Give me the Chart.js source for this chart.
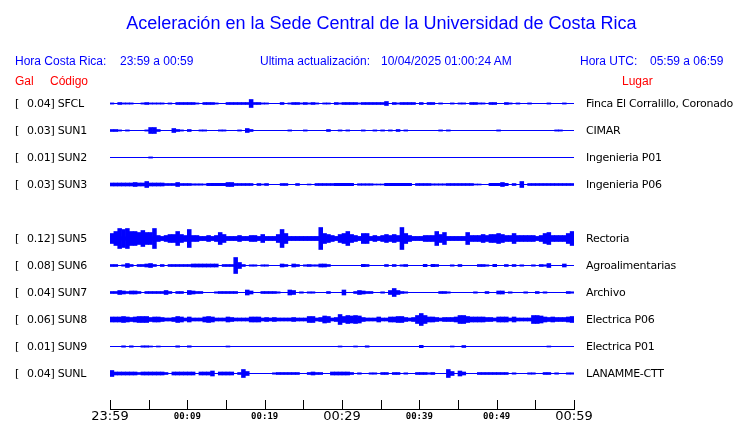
<!DOCTYPE html>
<html>
<head>
<meta charset="utf-8">
<script src="https://cdn.jsdelivr.net/npm/chart.js@4"></script>
<style>
  body { margin: 0; background: #fff; }
  #wrap { position: relative; width: 740px; height: 423px; overflow: hidden; }
  #wrap canvas { position: absolute; left: 0; top: 0; }
  .t { position: absolute; white-space: pre; line-height: 1; }
  .blue { font: 12px "Liberation Sans", Arial, sans-serif; color: #0000ff; }
  .red { font: 12px "Liberation Sans", Arial, sans-serif; color: #ff0000; }
  .row { font: 11px "DejaVu Sans", sans-serif; color: #000; letter-spacing: -0.25px; }
</style>
</head>
<body>
<div id="wrap">
  <canvas id="sismo" width="740" height="423"></canvas>
  <div class="t" style="left:0;width:763px;text-align:center;top:13px;font:18px 'Liberation Sans',Arial,sans-serif;color:#0000ff">Aceleración en la Sede Central de la Universidad de Costa Rica</div>
  <div class="t blue" style="left:15px;top:54px">Hora Costa Rica:</div>
  <div class="t blue" style="left:120px;top:54px">23:59 a 00:59</div>
  <div class="t blue" style="left:260px;top:54px">Ultima actualización:</div>
  <div class="t blue" style="left:381px;top:54px">10/04/2025 01:00:24 AM</div>
  <div class="t blue" style="left:580px;top:54px">Hora UTC:</div>
  <div class="t blue" style="left:650px;top:54px">05:59 a 06:59</div>
  <div class="t red" style="left:15px;top:74px">Gal</div>
  <div class="t red" style="left:50px;top:74px">Código</div>
  <div class="t red" style="left:622px;top:74px">Lugar</div>
</div>
<script>
// estaciones (fila 4 queda vacia)
const codes = ["SFCL", "SUN1", "SUN2", "SUN3", "SUN5", "SUN6", "SUN7", "SUN8", "SUN9", "SUNL"];
const places = ["Finca El Corralillo, Coronado", "CIMAR", "Ingenieria P01", "Ingenieria P06",
  "Rectoria", "Agroalimentarias", "Archivo", "Electrica P06", "Electrica P01", "LANAMME-CTT"];
const peakGal = [0.04, 0.03, 0.01, 0.03, 0.12, 0.08, 0.04, 0.06, 0.01, 0.04];
const rows = [0, 1, 2, 3, 5, 6, 7, 8, 9, 10];

// eje de tiempo: 60 minutos, marca cada 5
const tickLabels = ["23:59", "00:09", "00:19", "00:29", "00:39", "00:49", "00:59"];
const bigLabels = ["23:59", "00:29", "00:59"];

// envolvente de cada traza, en centesimas de Gal, un valor cada medio minuto (120)
const sfcl = [
  0.6,0,1,0.6,0.6,0.6,0,0,0.6,1, 0.6,0.6,0.6,0.6,0,0.6,0,1,1,1,
  1,1,0.6,0,1,1,1,0.6,0,0, 1,1,1,1,1,1,4,1,1,0.6,
  0.6,0,0,0,1,0,0.6,1,1,0.6, 1,0.6,1,0.6,0,0.6,0.6,0,1,0.6,
  1,1,1,1,0.6,1,1,1,1,1, 1,2,0,1,0.6,1,1,1,1,0,
  1,0,1,1,0,0.6,0,0,0.6,0, 0.6,0.6,0,1,1,0.6,0.6,0,1,1,
  0,0,1,0.6,0,0.6,0,0,0.6,0, 0,0,0,0.6,0,0,0,0.6,0,0];
const sun1 = [
  1,1,0.6,0,0.6,0,0,0,0,0.6, 3,3,1,0,0,0,2,1,0.6,0,
  1,0,0,0.6,0.6,0,0,0,0.6,0.6, 0,0,0,0.6,0,2,1,0,0,0,
  0,0,0,0,0,0,0.6,0,0,0, 0.6,0,0,0,0,0,1,0,0,0.6,
  0,0.6,0,0,0,0.6,0,0,0.6,0, 0.6,0,0.6,0,1,0,0.6,0,0,0,
  0,0,0,0,0,0.6,0,0.6,0,0, 0,0,0,0,0,0,0,0,0,0,
  0.6,0,0,0,0,0,0,0,0,0, 0,0,0,0,0,0.6,0.6,0,0,0];
const sun2 = [
  0,0,0,0,0,0,0,0,0,0, 0.6,0,0,0,0,0,0,0,0,0,
  0,0,0,0,0,0,0,0,0,0, 0,0,0,0,0,0,0,0,0,0,
  0,0,0,0,0,0,0,0,0,0, 0,0,0,0,0,0,0,0,0,0,
  0,0,0,0,0,0,0,0,0,0, 0,0,0,0,0,0,0,0,0,0,
  0,0,0,0,0,0,0,0,0,0, 0,0,0,0,0,0,0,0,0,0,
  0,0,0,0,0,0,0,0,0,0, 0,0,0,0,0,0,0,0,0,0];
const sun3 = [
  1.5,1.5,1.5,1.5,1.5,1.5,2,1.5,1.5,3, 1.5,1.5,1.5,1.5,1,1,1,2,1,1,
  1,0.7,0.7,0.7,0.5,1.2,1.2,1.2,1.2,1.2, 2,2,1,1,1,1,1,0,1,0.5,
  1,0,0,0,1,1,0,0,1,0, 0,0.5,0,1,1,1,1,1,1.2,1.2,
  1.2,1.2,1.2,0,0.8,0.8,0.8,0.8,0.5,0.5, 0.5,1.2,1.2,1.2,1.2,1.2,1.2,1.2,0,1,
  1,1,1,0.7,0.7,0.7,0.7,1,1,1, 1,1,1,1,0.5,0.5,0,0,1.2,1.2,
  1.2,2,1.2,0,1,0,3,0,1,1, 1,1,1,1,1,1,1,1,1,1];
const sun5 = [
  5,7,10,9,10,7,7,6,8,6, 6,10,3,2,3,4,4,7,4,3,
  9,3,3,2,2,3,2,3,6,4, 2,2,2,3,2,2,3,3,2,4,
  2,2,2,4,9,5,2,2,2,2, 2,2,2,2,11,5,4,3,2,4,
  5,7,4,3,2,5,5,2,3,2, 3,4,3,4,3,11,5,3,2,2,
  2,3,3,3,7,4,6,2,2,2, 2,2,6,3,3,3,4,3,4,4,
  5,4,3,3,5,3,3,3,3,3, 2,3,5,6,3,3,3,3,5,7];
const sun6 = [
  1,1,0,0.7,2,1,0,1,1,1.5, 2,1,0,1,0,1,1,1,1,1,
  1,1.5,1.5,1.5,1.5,1.5,1.5,1.5,0,1, 1,1,8,3,1,0,0.7,0.7,0,0.7,
  0.7,0,0,0,1.5,1,0,1.5,1,0, 0.7,1,0.7,0.7,1.5,1.5,1,0,0,0,
  0,0,0,0,0,1.2,1,0,0,0, 0,1,0,1,0,0.7,1,0,0,0,
  0,1.2,0,1.2,1,0,0,0,0.7,0, 1,0,0,0,0,1,1,0.7,0,1.2,
  0,0,1,0,1,0,0.7,0,0,0.7, 0,1,0.7,2,0,0,0,1.5,0,0];
const sun7 = [
  1,1,2,1.5,1,1.5,1.5,1,0,1, 1,1,1,1,2,1,0,1,1,0,
  2,1.5,1,1,0,0,0,0.7,1,1, 1,1,1,0,0,2.5,1.5,0,0,1,
  1,1,1,0.7,0,0,2.5,2,0,0.7, 0,0.7,0.7,0,0,0,1,0,0,0,
  2.5,0,0,1,2,1.5,1,1,0,0, 0.7,0,2,4,2,1,0.7,0,0,0,
  0,0,0,0,0,1,1,0.7,0,0, 0,0,0,0,0.7,0,0,1,0,0,
  1.5,1.5,0,0.7,0,0,0,0.7,0,0, 1,0,0.7,0,0,0,0,0,1,0.7];
const sun8 = [
  2.5,2.5,2.5,3,2.5,2,2.5,3,3,3, 2,2.5,2.5,2,1.5,1.5,2,3,2.5,1.5,
  2.5,1.5,1.5,1.5,2.5,3,2.5,1.5,1.5,1.5, 2.5,2,1.5,1.5,1.5,1.5,2.5,2.5,2.5,1.5,
  2,1.5,2,1.5,1.5,1.5,1.5,2,1.5,1.5, 1.5,3,3,1.5,2,3.5,3,1.5,2,5,
  3,4,3.5,4,3.5,2,1.5,1.5,1.5,2.5, 1.5,1.5,2.5,2.5,3,3,2,1.5,2,4,
  6,4,2.5,2.5,2,1.5,2,2,2,2.5, 4,4,3,2.5,2.5,2.5,2.5,2,2,1.5,
  2.5,2.5,2.5,1.5,2.5,1.5,1.5,1.5,1.5,4, 4,3.5,2.5,2,2.5,2,2,2,2.5,3];
const sun9 = [
  0,0,0,0.7,0,0.7,0,0,0.7,0.7, 0.5,0,0.5,0,0,0,0,0.7,0,0,
  0.7,0,0,0,0,0,0,0,0,0, 0.5,0,0,0,0,0,0,0,0,0,
  0,0,0,0,0,0,0,0,0,0, 0,0,0,0,0,0,0,0,0,0.5,
  0,0,0,0.5,0,0,0.7,0,0,0, 0,0,0,0,0,0,0,0,0,0,
  1.2,0,0,0,0,0,0,0,0.5,0, 0,1,0,0,0,0,0,0,0,0,
  0,0,0,0,0,0,0,0,0,0, 0,0,0,0.5,0,0,0,0,0,0];
const sunl = [
  3,1.5,1.5,1.5,1.5,1.5,1.5,1,1.5,1.5, 1.5,1.5,1.5,1.5,1,0,1.5,1.5,1.5,1.5,
  1.5,1.5,0,1.5,1.5,1.5,2.5,0,1.5,1.5, 1.5,1.5,0,1,4,2,0,0,0,0,
  0,0,0.7,1,1,1,1,1,1,0, 0,1,1.5,1,1,0,0,1.5,1.5,1.5,
  1.5,1.5,1,0,0.7,0,0,0.7,0.7,0, 1,1,0,1,1,0,0.7,0,0,1,
  1,1,0.7,1,0,0,0,4,2,0, 2.5,1.5,0,0,0,1,1,1,1,1,
  1,1,1,0,0.7,0,0,0,0.7,0.7, 0,0,1,1,0,0.7,0,0,0.7,0.7];

const traces = [sfcl, sun1, sun2, sun3, sun5, sun6, sun7, sun8, sun9, sunl];

const blue = "#0000ff";
const rowGap = 0.27;   // Gal entre lineas base
const binMin = 0.5;    // minutos por valor
// grosor de la linea base por traza
const baseWidth = [1, 1, 1, 1, 4, 1, 1, 3, 1, 1];

// textos de cada fila
const wrap = document.getElementById("wrap");
rows.forEach((r, n) => {
  const top = 97 + 27 * r;
  const add = (left, text) => {
    const d = document.createElement("div");
    d.className = "t row";
    d.style.left = left + "px";
    d.style.top = top + "px";
    d.textContent = text;
    wrap.appendChild(d);
  };
  add(15, "[");
  add(27, peakGal[n].toFixed(2) + "] " + codes[n]);
  add(586, places[n]);
});

const datasets = [];
traces.forEach((amp, n) => {
  const base = -rowGap * rows[n];
  datasets.push({
    type: "line",
    data: [{ x: 0, y: base }, { x: 60, y: base }],
    borderColor: blue,
    borderWidth: baseWidth[n],
    borderCapStyle: "butt",
    pointRadius: 0,
  });
  datasets.push({
    type: "bar",
    data: amp.map((a, i) => ({ x: binMin * (i + 0.5), y: [base - a / 100, base + a / 100] })),
    backgroundColor: blue,
    borderWidth: 0,
    grouped: false,
    barPercentage: 1,
    categoryPercentage: 1,
  });
});

// marcas del eje hacia arriba
const tickMarks = {
  id: "tickMarks",
  afterDraw(chart) {
    const xs = chart.scales.x;
    const ctx = chart.ctx;
    const bottom = chart.chartArea.bottom;
    ctx.save();
    ctx.strokeStyle = "#000";
    ctx.lineWidth = 1;
    ctx.beginPath();
    xs.ticks.forEach((t) => {
      const px = Math.round(xs.getPixelForValue(t.value)) + 0.5;
      ctx.moveTo(px, bottom - 9);
      ctx.lineTo(px, bottom);
    });
    ctx.stroke();
    ctx.restore();
  },
};

new Chart(document.getElementById("sismo"), {
  type: "bar",
  data: { datasets: datasets },
  options: {
    responsive: false,
    animation: false,
    devicePixelRatio: 1,
    layout: { padding: { top: 76, left: 110, right: 166, bottom: 0 } },
    plugins: { legend: { display: false }, tooltip: { enabled: false } },
    scales: {
      x: {
        type: "linear",
        min: 0,
        max: 60,
        offset: false,
        grid: { display: false, drawTicks: false },
        border: { display: true, color: "#000", width: 1 },
        afterFit: (scale) => { scale.height = 14; },
        ticks: {
          stepSize: 5,
          autoSkip: false,
          maxRotation: 0,
          padding: 3,
          color: "#000",
          callback: (v) => (v % 10 === 0 ? tickLabels[v / 10] : ""),
          font: (c) => {
            const lbl = c.tick ? tickLabels[c.tick.value / 10] : "";
            return bigLabels.includes(lbl)
              ? { family: "DejaVu Sans", size: 13, lineHeight: "10px" }
              : { family: "DejaVu Sans Mono", size: 9, weight: "bold", lineHeight: "10px" };
          },
        },
      },
      y: {
        type: "linear",
        display: false,
        min: 0.275 - 3.33,
        max: 0.275,
      },
    },
  },
  plugins: [tickMarks],
});
</script>
</body>
</html>
